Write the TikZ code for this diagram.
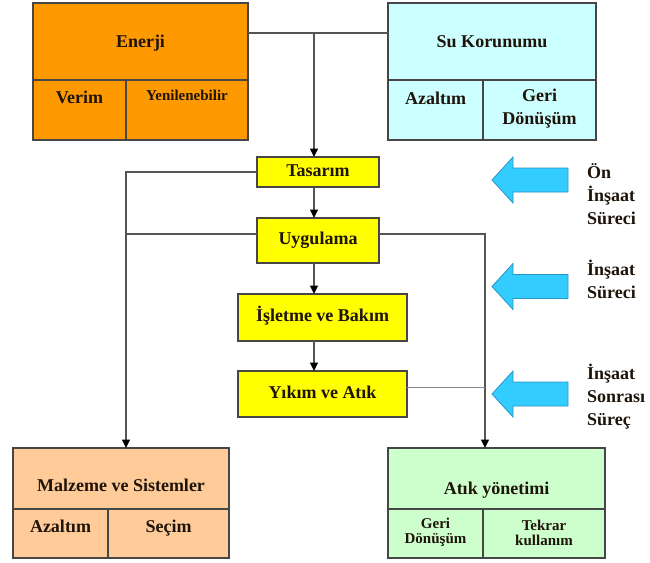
\documentclass[tikz,border=0pt]{standalone}
\usepackage{fontspec}
\setmainfont{Liberation Serif}
\usetikzlibrary{arrows.meta}
\definecolor{enerjiC}{RGB}{255,153,0}
\definecolor{suC}{RGB}{204,255,255}
\definecolor{yelC}{RGB}{255,255,0}
\definecolor{malC}{RGB}{255,204,153}
\definecolor{atikC}{RGB}{204,255,204}
\definecolor{blueC}{RGB}{51,204,255}
\definecolor{blueE}{RGB}{40,150,200}
\definecolor{lineC}{RGB}{85,85,85}
\definecolor{edgeC}{RGB}{70,70,70}
\definecolor{txtC}{RGB}{30,20,10}
\begin{document}
\begin{tikzpicture}[x=1pt,y=-1pt,
  box/.style={draw=edgeC, line width=1.2pt, inner sep=0pt, outer sep=0pt},
  big/.style={font=\fontsize{18}{23}\selectfont\bfseries, text=txtC, inner sep=0pt, align=center},
  one/.style={big, text height=12.5pt, text depth=4pt},
  small/.style={font=\fontsize{15}{15}\selectfont\bfseries, text=txtC, inner sep=0pt, align=center},
  side/.style={font=\fontsize{18}{23}\selectfont\bfseries, text=txtC, inner sep=0pt, align=left, anchor=west},
  conn/.style={draw=lineC, line width=1.3pt},
  arr/.style={conn, -{Triangle[length=8.5pt,width=8pt,color=black]}},
  thinconn/.style={draw=lineC!70, line width=0.9pt},
  bluearr/.style={fill=blueC, draw=blueE, line width=0.8pt, line join=miter}
]
\useasboundingbox (0,0) rectangle (650,562);
\fill[white] (0,0) rectangle (650,562);

% Enerji
\node[box, fill=enerjiC, minimum width=215pt, minimum height=77pt] (enerji) at (140.5,41.5) {};
\node[box, fill=enerjiC, minimum width=93pt, minimum height=60pt] (verimc) at (79.5,110) {};
\node[box, fill=enerjiC, minimum width=122pt, minimum height=60pt] (yenic) at (187,110) {};
\node[one] (enerjit) at (140.5,43) {Enerji};
\node[one] (verimt) at (79.5,99) {Verim};
\node[small, text height=10.5pt, text depth=3pt] (yenit) at (187,97) {Yenilenebilir};

% Su Korunumu
\node[box, fill=suC, minimum width=208pt, minimum height=77pt] (su) at (492,41.5) {};
\node[box, fill=suC, minimum width=95pt, minimum height=60pt] (suazc) at (435.5,110) {};
\node[box, fill=suC, minimum width=113pt, minimum height=60pt] (sugeric) at (539.5,110) {};
\node[one] (sut) at (492,43) {Su Korunumu};
\node[one] (suazt) at (435.5,100) {Azaltım};
\node[big] (sugerit) at (539.5,109) {Geri\\Dönüşüm};

% process boxes
\node[box, fill=yelC, minimum width=122pt, minimum height=30pt, one] (tasarim) at (318,172) {Tasarım};
\node[box, fill=yelC, minimum width=122pt, minimum height=45pt, one] (uyg) at (318,240.5) {Uygulama};
\node[box, fill=yelC, minimum width=169pt, minimum height=47pt, one] (isl) at (322.5,317.5) {İşletme ve Bakım};
\node[box, fill=yelC, minimum width=169pt, minimum height=46pt, one] (yik) at (322.5,394) {Yıkım ve Atık};

% Malzeme
\node[box, fill=malC, minimum width=216pt, minimum height=61pt] (malz) at (121,478.5) {};
\node[box, fill=malC, minimum width=95pt, minimum height=49pt] (malazc) at (60.5,533.5) {};
\node[box, fill=malC, minimum width=121pt, minimum height=49pt] (secc) at (168.5,533.5) {};
\node[one] (malzt) at (121,487) {Malzeme ve Sistemler};
\node[one] (malazt) at (60.5,528) {Azaltım};
\node[one] (secht) at (168.5,528) {Seçim};

% Atik
\node[box, fill=atikC, minimum width=217pt, minimum height=61pt] (atik) at (496.5,478.5) {};
\node[box, fill=atikC, minimum width=95pt, minimum height=49pt] (agc) at (435.5,533.5) {};
\node[box, fill=atikC, minimum width=122pt, minimum height=49pt] (atc) at (544,533.5) {};
\node[one] (atikt) at (496.5,490) {Atık yönetimi};
\node[small] (agt) at (435.5,532.5) {Geri\\Dönüşüm};
\node[small] (att) at (544,532.5) {Tekrar\\kullanım};

% connectors
\coordinate (spine) at (314,33);
\coordinate (lbus) at (126,0);
\coordinate (rbus) at (485,0);
\draw[conn] ([yshift=8.5pt]enerji.east) -- ([yshift=8.5pt]su.west);
\draw[arr] (spine) -- (tasarim.north -| spine);
\draw[arr] (tasarim.south -| spine) -- (uyg.north -| spine);
\draw[arr] (uyg.south -| spine) -- (isl.north -| spine);
\draw[arr] (isl.south -| spine) -- (yik.north -| spine);
\draw[arr] (tasarim.west) -| (malz.north -| lbus);
\draw[conn] ([yshift=6.5pt]uyg.west) -- ([yshift=6.5pt]uyg.west -| lbus);
\draw[arr] ([yshift=6.5pt]uyg.east) -| (atik.north -| rbus);
\draw[thinconn] ([yshift=7pt]yik.east) -- ([yshift=7pt]yik.east -| rbus);

% blue arrows
\foreach \c in {180,286.5,394}{
  \draw[bluearr] (492,\c) -- (513,\c-23) -- (513,\c-12) -- (568,\c-12) -- (568,\c+12) -- (513,\c+12) -- (513,\c+23) -- cycle;
}

% side labels
\node[side] (lab1) at (587,194) {Ön\\İnşaat\\Süreci};
\node[side] (lab2) at (587,279) {İnşaat\\Süreci};
\node[side] (lab3) at (587,397) {İnşaat\\Sonrası\\Süreç};
\end{tikzpicture}
\end{document}
